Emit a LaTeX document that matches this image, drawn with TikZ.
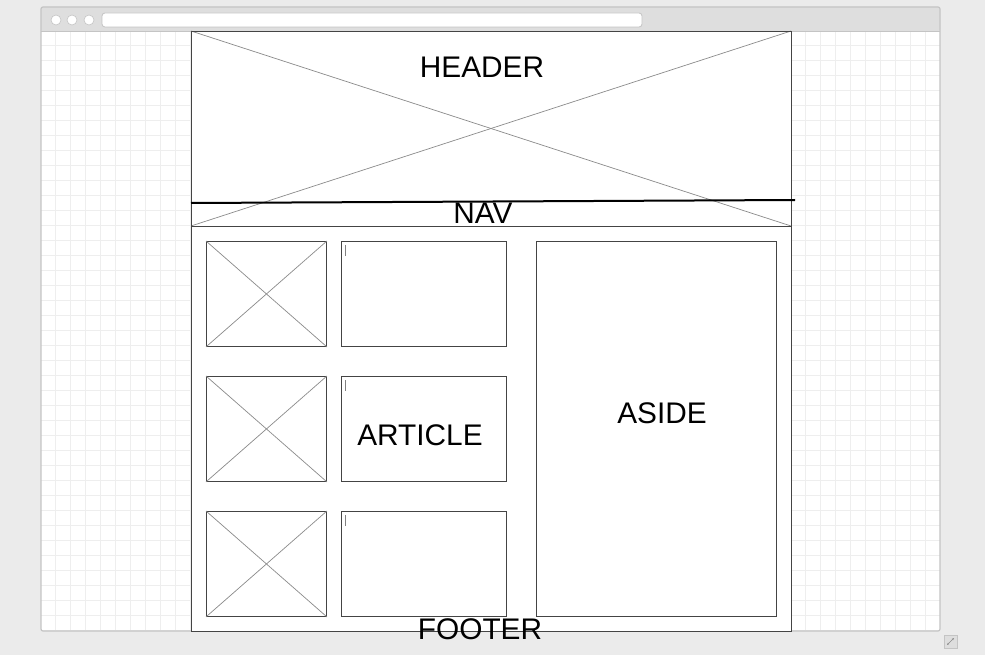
\documentclass[tikz,border=0pt]{standalone}
\usepackage{fontspec}
\setmainfont{Liberation Sans}
\usetikzlibrary{arrows.meta}
\definecolor{pageBack}{HTML}{EBEBEB}
\definecolor{winFrame}{HTML}{C4C4C4}
\definecolor{winBar}{HTML}{DEDEDE}
\definecolor{gridLine}{HTML}{EEEEEE}
\definecolor{boxLine}{HTML}{444444}
\definecolor{crossLine}{HTML}{8A8A8A}

\begin{document}
\begin{tikzpicture}[
  x=1pt, y=-1pt,
  font=\fontsize{29.8}{32}\selectfont,
  box/.style={draw=boxLine, line width=0.9pt, inner sep=0pt, anchor=north west},
  imgbox/.style={box, minimum width=120pt, minimum height=105pt},
  txtbox/.style={box, minimum width=165pt, minimum height=105pt},
  cross/.style={crossLine, line width=0.7pt},
  caret/.style={gray, line width=0.9pt},
  lbl/.style={inner sep=0pt, text=black}
]
  \useasboundingbox (0,0) rectangle (985,655);
  \fill[pageBack] (0,0) rectangle (985,655);

  % --- Ventana del navegador ---
  \fill[white] (41,31) rectangle (940,631);
  \foreach \gx in {55,70,...,935}
    \draw[gridLine, line width=0.8pt] (\gx,31) -- (\gx,631);
  \foreach \gy in {45,60,...,630}
    \draw[gridLine, line width=0.8pt] (41,\gy) -- (940,\gy);
  \fill[winBar, rounded corners=2pt] (41,31) -- (41,7) -- (940,7) -- (940,31) -- cycle;
  \draw[winFrame, line width=1.2pt, rounded corners=2pt] (41,7) rectangle (940,631);
  \draw[winFrame, line width=0.8pt] (41,31) -- (940,31);
  \foreach \cx in {56,72,89}
    \draw[winFrame, fill=white, line width=0.6pt] (\cx,20) circle (5);
  \draw[winFrame, fill=white, line width=0.8pt, rounded corners=3pt] (102,13) rectangle (642,27);

  % icono de redimensionar
  \draw[winFrame, fill=winBar, line width=0.6pt] (944,635) rectangle (957,648);
  \draw[crossLine, line width=0.6pt, {Stealth[length=2.5pt]}-{Stealth[length=2.5pt]}] (947,645) -- (954,638);

  % --- Página ---
  \coordinate (pageNW) at (191,31);
  \coordinate (pageSE) at (791,631);
  \coordinate (headSW) at (191,226);
  \coordinate (headSE) at (791,226);
  \fill[white] (pageNW) rectangle (pageSE);

  % Cabecera con cruz
  \draw[cross] (pageNW) -- (headSE);
  \draw[cross] (791,31) -- (headSW);
  \draw[boxLine, line width=0.9pt] (pageNW) rectangle (pageSE);
  \draw[boxLine, line width=0.9pt] (headSW) -- (headSE);

  % Línea de la navegación
  \coordinate (navW) at (191,203);
  \coordinate (navE) at (795,200);
  \draw[black, line width=2pt] (navW) -- (navE);

  % --- Artículos ---
  \node[imgbox] (img1) at (206,241) {};
  \node[imgbox] (img2) at (206,376) {};
  \node[imgbox] (img3) at (206,511) {};
  \foreach \n in {img1,img2,img3} {
    \draw[cross] (\n.north west) -- (\n.south east);
    \draw[cross] (\n.north east) -- (\n.south west);
  }
  \node[txtbox] (txt1) at (341,241) {};
  \node[txtbox] (txt2) at (341,376) {};
  \node[txtbox] (txt3) at (341,511) {};
  \foreach \n in {txt1,txt2,txt3}
    \draw[caret] ([xshift=4pt,yshift=-4pt]\n.north west) -- ([xshift=4pt,yshift=-15pt]\n.north west);

  % Barra lateral
  \node[box, minimum width=240pt, minimum height=375pt] (side) at (536,241) {};

  % --- Etiquetas ---
  \node[lbl] (header)  at (482,67.5) {HEADER};
  \node[lbl] (nav)     at (483,213.5) {NAV};
  \node[lbl] (article) at (420,435.5) {ARTICLE};
  \node[lbl] (aside)   at (662,413.5) {ASIDE};
  \node[lbl] (footer)  at (480,629.5) {FOOTER};
\end{tikzpicture}
\end{document}
